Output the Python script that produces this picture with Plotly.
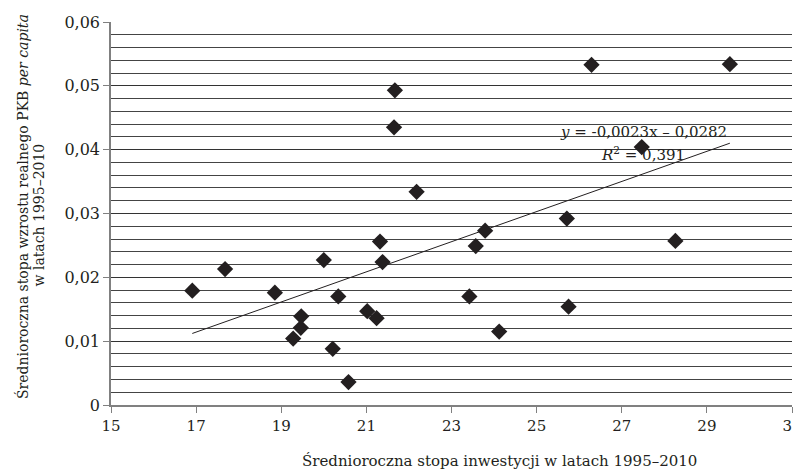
import plotly.graph_objects as go

# Data
investment = [16.91, 17.68, 18.85, 19.28, 19.46, 19.47, 20.00, 20.21, 20.34, 20.58,
              21.02, 21.24, 21.32, 21.38, 21.65, 21.67, 22.18, 23.42, 23.57, 23.79,
              24.12, 25.71, 25.75, 26.29, 27.47, 28.26, 29.54]
growth = [0.0179, 0.0213, 0.0176, 0.0104, 0.0121, 0.0139, 0.0227, 0.0088, 0.0170, 0.0036,
          0.0147, 0.0136, 0.0256, 0.0224, 0.0435, 0.0493, 0.0334, 0.0170, 0.0249, 0.0273,
          0.0115, 0.0292, 0.0154, 0.0533, 0.0404, 0.0257, 0.0534]

trend_slope = 0.00236
trend_intercept = -0.0287

x_ticks = [15, 17, 19, 21, 23, 25, 27, 29, 31]
y_ticks = [0, 0.01, 0.02, 0.03, 0.04, 0.05, 0.06]
y_tick_labels = ["0", "0,01", "0,02", "0,03", "0,04", "0,05", "0,06"]

FONT = "DejaVu Serif"
TXT = "#231f20"

x_line = [min(investment), max(investment)]
y_line = [trend_slope * v + trend_intercept for v in x_line]

fig = go.Figure()
fig.add_trace(go.Scatter(x=x_line, y=y_line, mode="lines",
                         line=dict(color="#231f20", width=1), hoverinfo="skip"))
fig.add_trace(go.Scatter(x=investment, y=growth, mode="markers",
                         marker=dict(symbol="diamond", size=12.5, color="#231f20",
                                     line=dict(width=0))))

fig.update_layout(
    width=793, height=464,
    margin=dict(l=103, r=9, t=14, b=67),
    plot_bgcolor="white", paper_bgcolor="white",
    showlegend=False,
    font=dict(family=FONT, color=TXT, size=16),
    xaxis=dict(range=[15, 31], tickvals=x_ticks, ticktext=[str(v) for v in x_ticks],
               ticks="outside", ticklen=6, tickwidth=1, tickcolor="#808080",
               showline=True, linecolor="#808080", linewidth=1.5,
               showgrid=False, zeroline=False, tickfont=dict(size=15),
               automargin=False, ticklabeloverflow="allow"),
    yaxis=dict(range=[0, 0.06], tickvals=y_ticks, ticktext=y_tick_labels,
               ticks="outside", ticklen=6, tickwidth=1, tickcolor="#808080",
               showline=True, linecolor="#808080", linewidth=1.5,
               showgrid=True, gridcolor="#333333", gridwidth=1,
               minor=dict(tick0=0, dtick=0.002, showgrid=True, gridcolor="#444444",
                          gridwidth=1, ticks=""),
               zeroline=False, tickfont=dict(size=16),
               automargin=False, ticklabeloverflow="allow"),
)

fig.add_annotation(xref="paper", yref="paper", x=0.570, y=-0.146, xanchor="center",
                   yanchor="middle", showarrow=False,
                   text="Średnioroczna stopa inwestycji w latach 1995–2010",
                   font=dict(size=15, family=FONT, color=TXT))
fig.add_annotation(xref="paper", yref="paper", x=-0.130, y=0.518, xanchor="center",
                   yanchor="middle", showarrow=False, textangle=-90,
                   text="Średnioroczna stopa wzrostu realnego PKB <i>per capita</i>",
                   font=dict(size=14, family=FONT, color=TXT))
fig.add_annotation(xref="paper", yref="paper", x=-0.105, y=0.496, xanchor="center",
                   yanchor="middle", showarrow=False, textangle=-90,
                   text="w latach 1995–2010",
                   font=dict(size=14, family=FONT, color=TXT))
fig.add_annotation(x=27.51, y=0.0427, xanchor="center", yanchor="middle", showarrow=False,
                   text="<i>y</i> = -0,0023x – 0,0282",
                   font=dict(size=15, family=FONT, color=TXT))
fig.add_annotation(x=27.51, y=0.0393, xanchor="center", yanchor="middle", showarrow=False,
                   text="<i>R</i><sup>2</sup> = 0,391",
                   font=dict(size=15, family=FONT, color=TXT))

fig.write_html("out.html")
